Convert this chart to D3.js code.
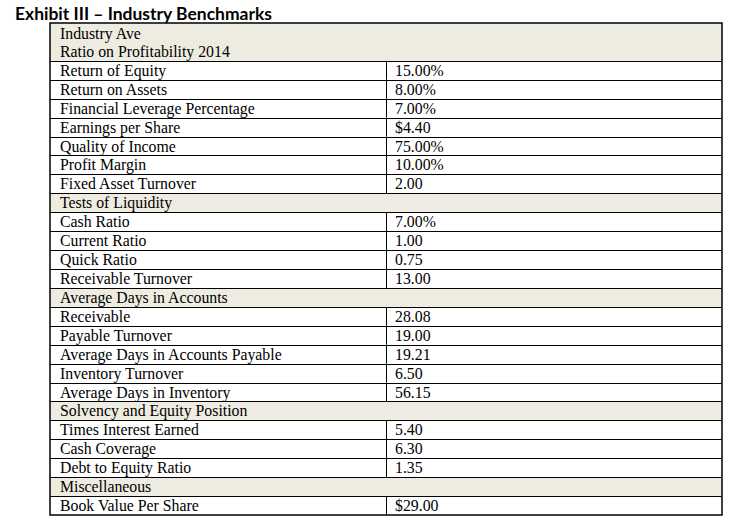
<!DOCTYPE html>
<html><head><meta charset="utf-8">
<script src="https://cdn.jsdelivr.net/npm/d3@7"></script>
<style>html,body{margin:0;padding:0;background:#fff}</style>
</head><body>
<svg id="c" width="740" height="529"></svg>
<script>
// ---- data ----
const title = "Exhibit III \u2013 Industry Benchmarks";
const headerLines = ["Industry Ave", "Ratio on Profitability 2014"];
const rowLabels = [
  "Return of Equity", "Return on Assets", "Financial Leverage Percentage",
  "Earnings per Share", "Quality of Income", "Profit Margin", "Fixed Asset Turnover",
  "Tests of Liquidity",
  "Cash Ratio", "Current Ratio", "Quick Ratio", "Receivable Turnover",
  "Average Days in Accounts",
  "Receivable", "Payable Turnover", "Average Days in Accounts Payable",
  "Inventory Turnover", "Average Days in Inventory",
  "Solvency and Equity Position",
  "Times Interest Earned", "Cash Coverage", "Debt to Equity Ratio",
  "Miscellaneous",
  "Book Value Per Share"
];
const rowValues = [
  "15.00%", "8.00%", "7.00%", "$4.40", "75.00%", "10.00%", "2.00",
  null,
  "7.00%", "1.00", "0.75", "13.00",
  null,
  "28.08", "19.00", "19.21", "6.50", "56.15",
  null,
  "5.40", "6.30", "1.35",
  null,
  "$29.00"
];

// ---- layout ----
const svg = d3.select("#c");
const tLeft = 50, tDivider = 386, tRight = 722;
const tTop = 23, tBottom = 515;
const shade = "#EEECE1";
const nSlots = headerLines.length + rowLabels.length;
const y = d3.scaleBand().domain(d3.range(nSlots)).range([tTop, tBottom]).padding(0);
const x = d3.scaleOrdinal().domain(["label", "value"]).range([tLeft + 10, tDivider + 9]);
const hdr = headerLines.length;
const crisp = v => Math.round(v) + 0.5;

// title
const t = svg.append("text")
  .attr("x", 15).attr("y", 19.5)
  .attr("font-family", "Lato, 'Open Sans', sans-serif")
  .attr("font-weight", 700)
  .attr("font-size", 17)
  .attr("fill", "#000")
  .text(title);
const tw = t.node().getComputedTextLength();
t.attr("font-size", 17 * 257 / tw);

// shaded backgrounds: header + section rows
svg.append("rect")
  .attr("x", tLeft).attr("y", y(0))
  .attr("width", tRight - tLeft).attr("height", y(hdr) - y(0))
  .attr("fill", shade);
const rows = rowLabels.map((l, i) => ({label: l, value: rowValues[i], slot: i + hdr, section: rowValues[i] === null}));
svg.selectAll("rect.sec").data(rows.filter(d => d.section)).enter().append("rect")
  .attr("class", "sec")
  .attr("x", tLeft).attr("y", d => y(d.slot))
  .attr("width", tRight - tLeft).attr("height", y.bandwidth())
  .attr("fill", shade);

// horizontal rules
svg.selectAll("line.h").data(d3.range(hdr, nSlots)).enter().append("line")
  .attr("class", "h")
  .attr("x1", tLeft).attr("x2", tRight)
  .attr("y1", d => crisp(y(d))).attr("y2", d => crisp(y(d)))
  .attr("stroke", "#000").attr("stroke-width", 1);

// column divider for value rows
svg.selectAll("line.v").data(rows.filter(d => !d.section)).enter().append("line")
  .attr("class", "v")
  .attr("x1", crisp(tDivider)).attr("x2", crisp(tDivider))
  .attr("y1", d => y(d.slot)).attr("y2", d => y(d.slot) + y.bandwidth())
  .attr("stroke", "#000").attr("stroke-width", 1);

// outer border
svg.append("rect")
  .attr("x", tLeft).attr("y", tTop)
  .attr("width", tRight - tLeft).attr("height", tBottom - tTop)
  .attr("fill", "none").attr("stroke", "#000").attr("stroke-width", 1.5);

const serif = "'Liberation Serif', 'Times New Roman', serif";
const fs = 15.8;

// header text
svg.selectAll("text.hd").data(headerLines).enter().append("text")
  .attr("class", "hd")
  .attr("x", x("label"))
  .attr("y", (d, i) => y(i) + (i === 0 ? 16 : 14.8))
  .attr("font-family", serif).attr("font-size", fs).attr("fill", "#000")
  .text(d => d);

// labels
svg.selectAll("text.lb").data(rows).enter().append("text")
  .attr("class", "lb")
  .attr("x", x("label"))
  .attr("y", d => y(d.slot) + 15)
  .attr("font-family", serif).attr("font-size", fs).attr("fill", "#000")
  .text(d => d.label);

// values
svg.selectAll("text.vl").data(rows.filter(d => !d.section)).enter().append("text")
  .attr("class", "vl")
  .attr("x", x("value"))
  .attr("y", d => y(d.slot) + 15)
  .attr("font-family", serif).attr("font-size", fs).attr("fill", "#000")
  .text(d => d.value);
</script>
</body></html>
